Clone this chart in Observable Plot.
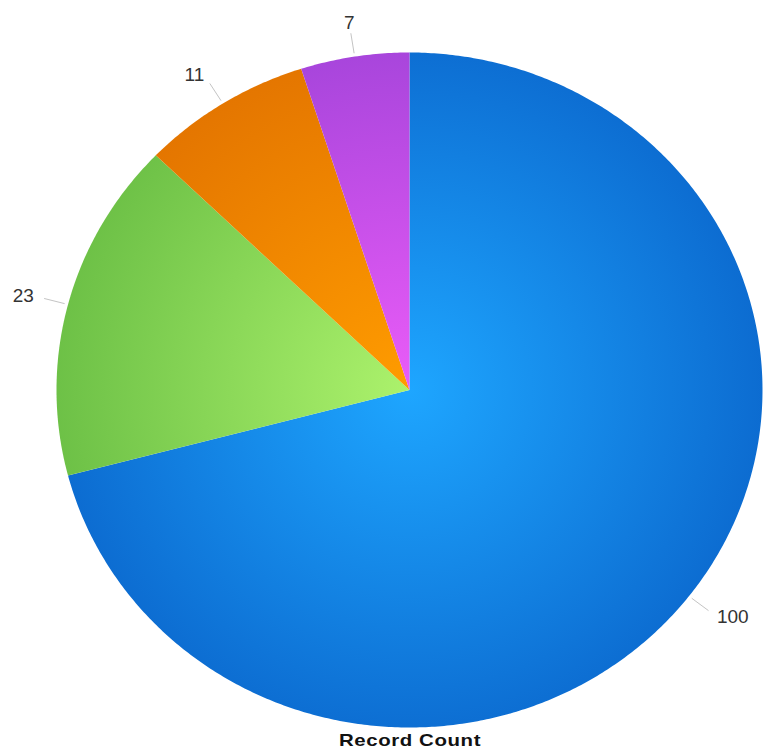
<!DOCTYPE html>
<html>
<head>
<meta charset="utf-8">
<script src="https://cdn.jsdelivr.net/npm/d3@7"></script>
<script src="https://cdn.jsdelivr.net/npm/@observablehq/plot@0.6"></script>
<style>
  body { margin: 0; background: #fff; font-family: "Liberation Sans", Arial, sans-serif; overflow: hidden; }
  #wrap { position: relative; width: 763px; height: 752px; }
  #title { position: absolute; left: 410px; top: 730px; height: 22px; line-height: 22px; white-space: nowrap;
           transform: translateX(-50%) scaleX(1.2); font-weight: bold; font-size: 17px; letter-spacing: 0.5px; color: #111; }
</style>
</head>
<body>
<div id="wrap">
<div id="chart"></div>
<div id="title">Record Count</div>
</div>
<script>
// ---- data ----
const categories = ["Blue", "Green", "Orange", "Purple"];
const values = [100, 23, 11, 7];
const valueLabels = ["100", "23", "11", "7"];
// palette (inner / outer gradient stops)
const innerColors = ["#1ea6ff", "#acf26c", "#ff9c00", "#ea5cf8"];
const outerColors = ["#0c6bd0", "#6cc046", "#e37400", "#a444da"];

const data = categories.map((c, i) => ({key: c, value: values[i], label: valueLabels[i], i}));
const arcs = d3.pie().sort(null).value(d => d.value)(data);

const sliceRows = [];
for (const a of arcs) {
  const fill = `url(#grad${a.data.i})`;
  sliceRows.push({key: a.data.key, fill, x: 0, y: 0});
  const n = Math.max(2, Math.ceil((a.endAngle - a.startAngle) / (Math.PI / 360)));
  for (let k = 0; k <= n; ++k) {
    const t = a.startAngle + (a.endAngle - a.startAngle) * k / n;
    sliceRows.push({key: a.data.key, fill, x: Math.sin(t), y: Math.cos(t)});
  }
}
const outline = d3.range(0, 721).map(k => {
  const t = k / 720 * 2 * Math.PI;
  return {x: Math.sin(t), y: Math.cos(t)};
});

const labelRows = arcs.map(a => {
  const m = (a.startAngle + a.endAngle) / 2;
  const s = Math.sin(m), c = Math.cos(m);
  return {
    text: a.data.label,
    x1: s * 1.01, y1: c * 1.01,
    x2: s * 1.07, y2: c * 1.07,
    x: s * 1.1, y: c * 1.1,
    anchor: s > 0.3 ? "start" : s < -0.3 ? "end" : "middle"
  };
});

const textOpts = {x: "x", y: "y", text: "text", fontSize: 19, fill: "#333"};
const plot = Plot.plot({
  width: 763,
  height: 730,
  margin: 0,
  style: {fontFamily: "'Liberation Sans', Arial, sans-serif", background: "white"},
  x: {domain: [-1, 1], range: [56, 762], axis: null},
  y: {domain: [-1, 1], range: [727, 52], axis: null},
  color: {type: "identity"},
  marks: [
    Plot.line(outline, {x: "x", y: "y", fill: "#000", fillOpacity: 0.22, stroke: "none", curve: "linear-closed", dx: 2, dy: 3, ariaLabel: "shadow"}),
    Plot.line(sliceRows, {x: "x", y: "y", z: "key", fill: "fill", stroke: "none", curve: "linear-closed"}),
    Plot.link(labelRows, {x1: "x1", y1: "y1", x2: "x2", y2: "y2", stroke: "#c4c4c4", strokeWidth: 1}),
    Plot.text(labelRows, {...textOpts, filter: d => d.anchor === "start", textAnchor: "start"}),
    Plot.text(labelRows, {...textOpts, filter: d => d.anchor === "end", textAnchor: "end"}),
    Plot.text(labelRows, {...textOpts, filter: d => d.anchor === "middle", textAnchor: "middle"})
  ]
});

const svg = d3.select(plot);
const cx = plot.scale("x").apply(0), cy = plot.scale("y").apply(0);
const defs = svg.insert("defs", ":first-child");
categories.forEach((c, i) => {
  const g = defs.append("radialGradient").attr("id", `grad${i}`)
    .attr("gradientUnits", "userSpaceOnUse")
    .attr("cx", cx).attr("cy", cy).attr("r", 360);
  g.append("stop").attr("offset", "0%").attr("stop-color", innerColors[i]);
  g.append("stop").attr("offset", "100%").attr("stop-color", outerColors[i]);
});
const f = defs.append("filter").attr("id", "blur").attr("x", "-10%").attr("y", "-10%").attr("width", "120%").attr("height", "120%");
f.append("feGaussianBlur").attr("stdDeviation", 2.5);
svg.select("g[aria-label='shadow']").attr("filter", "url(#blur)");

document.getElementById("chart").appendChild(plot);
</script>
</body>
</html>
